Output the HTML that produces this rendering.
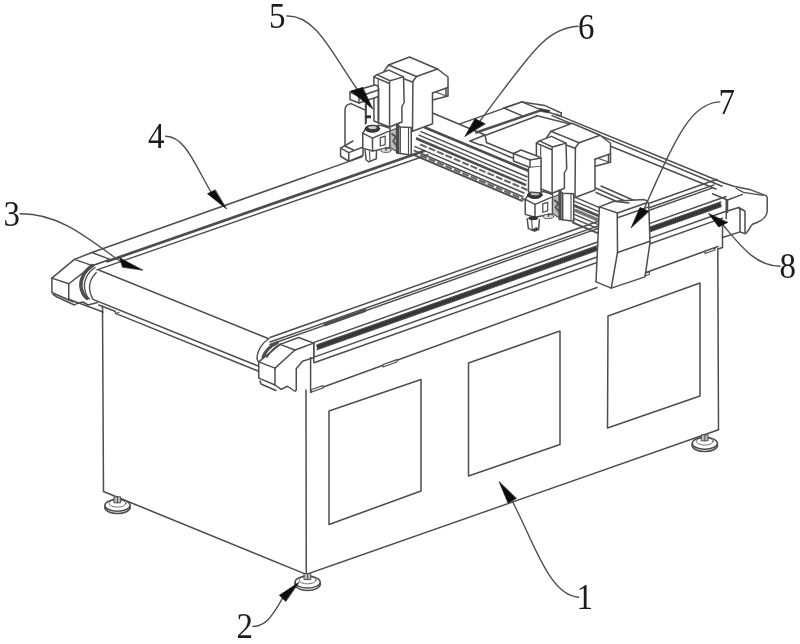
<!DOCTYPE html>
<html><head><meta charset="utf-8"><title>Figure</title>
<style>
html,body{margin:0;padding:0;background:#fff;}
body{width:800px;height:644px;overflow:hidden;font-family:"Liberation Serif",serif;}
svg{display:block}
text{font-family:"Liberation Serif",serif;fill:#1a1a1a;stroke:none}
</style></head><body>
<svg width="800" height="644" viewBox="0 0 800 644" fill="none" stroke="#4e4e4e" stroke-width="1.5" stroke-linecap="round" stroke-linejoin="round">
<defs><filter id="soft" x="0" y="0" width="800" height="644" filterUnits="userSpaceOnUse"><feGaussianBlur stdDeviation="0.5"/></filter></defs>
<rect x="0" y="0" width="800" height="644" fill="#fff" stroke="none"/>
<g filter="url(#soft)">
<line x1="102.50" y1="306.00" x2="103.50" y2="491.50"/>
<line x1="103.50" y1="491.50" x2="306.25" y2="574.40"/>
<line x1="306.00" y1="390.00" x2="306.25" y2="574.40"/>
<line x1="306.25" y1="574.40" x2="718.50" y2="429.75"/>
<line x1="717.80" y1="249.00" x2="718.50" y2="429.75"/>
<polygon points="329.00,411.00 421.00,379.50 421.00,491.00 329.00,524.50"/>
<polygon points="468.50,363.00 560.00,331.00 560.00,444.50 468.50,476.00"/>
<polygon points="608.00,316.00 700.00,283.00 700.00,396.00 607.50,428.00"/>
<line x1="311.00" y1="391.50" x2="597.00" y2="287.50"/>
<line x1="646.00" y1="272.50" x2="718.00" y2="246.50"/>
<line x1="60.00" y1="296.00" x2="103.00" y2="312.00"/>
<line x1="98.75" y1="305.00" x2="115.00" y2="311.25"/>
<polyline points="115.00,311.25 115.50,313.40 119.00,312.20" stroke-width="1.1"/>
<line x1="115.50" y1="313.40" x2="258.00" y2="371.00"/>
<polygon points="383.00,364.60 397.00,359.64 397.00,362.04 383.00,367.00" stroke-width="1.1" fill="#eee"/>
<polygon points="311.00,389.80 323.00,385.55 323.00,387.95 311.00,392.20" stroke-width="1.1" fill="#eee"/>
<polygon points="705.00,251.20 715.00,247.66 715.00,250.06 705.00,253.60" stroke-width="1.1" fill="#eee"/>
<ellipse cx="117.5" cy="507.3" rx="12.8" ry="6.3" fill="#fff"/>
<ellipse cx="117.5" cy="505.3" rx="12.6" ry="6.0" fill="#fff"/>
<ellipse cx="117.5" cy="503.3" rx="8.5" ry="3.8" fill="none" stroke-width="0.8"/>
<rect x="114.3" y="496.8" width="6.4" height="6" fill="#bbb" stroke-width="1.0"/>
<line x1="117.50" y1="496.80" x2="117.50" y2="502.80" stroke-width="0.97"/>
<ellipse cx="307.6" cy="584.1" rx="12.8" ry="6.3" fill="#fff"/>
<ellipse cx="307.6" cy="582.1" rx="12.6" ry="6.0" fill="#fff"/>
<ellipse cx="307.6" cy="580.1" rx="8.5" ry="3.8" fill="none" stroke-width="0.8"/>
<rect x="304.40000000000003" y="573.6" width="6.4" height="6" fill="#bbb" stroke-width="1.0"/>
<line x1="307.60" y1="573.60" x2="307.60" y2="579.60" stroke-width="0.97"/>
<ellipse cx="704.8" cy="445.3" rx="12.8" ry="6.3" fill="#fff"/>
<ellipse cx="704.8" cy="443.3" rx="12.6" ry="6.0" fill="#fff"/>
<ellipse cx="704.8" cy="441.3" rx="8.5" ry="3.8" fill="none" stroke-width="0.8"/>
<rect x="701.5999999999999" y="434.8" width="6.4" height="6" fill="#bbb" stroke-width="1.0"/>
<line x1="704.80" y1="434.80" x2="704.80" y2="440.80" stroke-width="0.97"/>
<line x1="91.90" y1="252.50" x2="362.00" y2="156.88"/>
<line x1="107.50" y1="261.21" x2="424.00" y2="151.07" stroke-width="2.76"/>
<line x1="97.00" y1="269.86" x2="428.00" y2="154.68"/>
<line x1="98.75" y1="270.00" x2="268.75" y2="338.68"/>
<line x1="93.00" y1="299.40" x2="257.50" y2="365.70"/>
<polygon points="51.90,278.10 74.40,259.40 91.90,252.50 110.00,259.40 92.50,265.60 68.75,283.75 68.75,300.00 51.90,292.50" fill="#fff"/>
<line x1="74.40" y1="259.40" x2="92.50" y2="265.60"/>
<line x1="51.90" y1="278.10" x2="68.75" y2="283.75"/>
<line x1="92.50" y1="265.60" x2="110.00" y2="259.40"/>
<polyline points="53.00,294.40 57.00,297.00 74.40,305.00 76.25,303.75 83.00,302.00 88.00,305.00 97.50,302.50"/>
<line x1="68.75" y1="300.00" x2="74.00" y2="302.00"/>
<path d="M92.5,265.6 C84,271 80,280 81,287 C82,293 84,296 87,298.2" stroke-width="3.59"/>
<path d="M95,267.5 C87,273 83.5,281 84.5,288 C85.5,294 87,297 89.5,299" stroke-width="1.38"/>
<path d="M96.25,272.5 C91,278 89,284 89.6,289 C90,293 91,296 92.5,298.7" stroke-width="1.38"/>
<line x1="270.00" y1="337.48" x2="599.00" y2="221.01"/>
<line x1="270.00" y1="342.08" x2="599.00" y2="225.61"/>
<line x1="270.00" y1="344.58" x2="599.00" y2="228.11"/>
<line x1="314.00" y1="342.35" x2="597.00" y2="242.17"/>
<line x1="314.00" y1="357.10" x2="597.00" y2="256.92"/>
<line x1="314.00" y1="362.70" x2="597.00" y2="262.52"/>
<line x1="317.00" y1="344.94" x2="597.00" y2="245.82" stroke-width="1.24"/>
<line x1="317.00" y1="349.64" x2="597.00" y2="250.52" stroke-width="1.24"/>
<line x1="317" y1="347.29" x2="597" y2="248.17" stroke="#484848" stroke-width="4.2" stroke-linecap="butt"/>
<line x1="317" y1="347.29" x2="597" y2="248.17" stroke="#2e2e2e" stroke-width="3.4" stroke-dasharray="1.4 0.8" stroke-linecap="butt"/>
<line x1="650.00" y1="202.96" x2="717.00" y2="179.24"/>
<line x1="650.00" y1="207.56" x2="714.00" y2="184.90"/>
<line x1="650.00" y1="210.06" x2="712.00" y2="188.11"/>
<line x1="650.00" y1="223.41" x2="726.00" y2="196.51"/>
<line x1="650.00" y1="238.16" x2="726.00" y2="211.26"/>
<line x1="650.00" y1="243.76" x2="722.50" y2="218.10"/>
<line x1="650.00" y1="227.06" x2="721.00" y2="201.93" stroke-width="1.24"/>
<line x1="650.00" y1="231.76" x2="721.00" y2="206.63" stroke-width="1.24"/>
<line x1="650" y1="229.41" x2="721" y2="204.28" stroke="#484848" stroke-width="4.2" stroke-linecap="butt"/>
<line x1="650" y1="229.41" x2="721" y2="204.28" stroke="#2e2e2e" stroke-width="3.4" stroke-dasharray="1.4 0.8" stroke-linecap="butt"/>
<line x1="325.00" y1="324.71" x2="365.00" y2="310.55" stroke-width="3.04"/>
<polygon points="258.75,361.90 280.00,344.40 298.75,337.50 313.75,343.10 313.75,357.50 302.50,361.25 296.25,368.75 296.25,390.00 295.00,391.25 287.50,386.25 281.25,389.40 275.00,385.00 258.75,378.10" fill="#fff"/>
<line x1="258.75" y1="361.90" x2="275.00" y2="368.10"/>
<line x1="275.00" y1="368.10" x2="275.00" y2="385.00"/>
<line x1="275.00" y1="368.10" x2="295.00" y2="350.00"/>
<line x1="280.00" y1="344.40" x2="295.00" y2="350.00"/>
<line x1="295.00" y1="350.00" x2="313.75" y2="343.10"/>
<polyline points="260.00,381.00 261.00,384.00 276.00,390.50"/>
<path d="M268.75,338.75 C262,343 257.5,351 257,357 C257,360 258,361.5 258.75,362" stroke-width="1.38"/>
<path d="M277.5,342.5 C270,346 265,352 263,357" stroke-width="3.04"/>
<path d="M281,344 C275,347 270,352 267,357" stroke-width="1.66"/>
<line x1="310.60" y1="357.50" x2="310.60" y2="392.50"/>
<line x1="313.75" y1="343.10" x2="313.75" y2="361.50"/>
<line x1="460.00" y1="123.90" x2="521.90" y2="101.90"/>
<line x1="476.25" y1="132.50" x2="540.00" y2="110.60" stroke-width="2.48"/>
<line x1="486.25" y1="135.00" x2="536.25" y2="116.25"/>
<polyline points="503.75,108.00 521.90,101.90 545.00,105.60 561.25,113.00"/>
<line x1="503.75" y1="108.00" x2="521.90" y2="115.60"/>
<line x1="521.90" y1="101.90" x2="540.00" y2="109.40"/>
<line x1="540.00" y1="109.40" x2="560.00" y2="116.00"/>
<line x1="561.25" y1="113.00" x2="561.25" y2="116.40"/>
<line x1="536.25" y1="115.60" x2="571.00" y2="124.20"/>
<polygon points="540.00,108.50 550.00,110.50 549.00,113.00 541.00,111.50" stroke-width="0.83" fill="#333"/>
<line x1="556.00" y1="114.30" x2="723.75" y2="183.00"/>
<line x1="552.00" y1="115.60" x2="722.00" y2="186.30"/>
<line x1="610.60" y1="146.25" x2="716.00" y2="189.00"/>
<line x1="432.50" y1="113.00" x2="485.00" y2="135.00"/>
<polyline points="470.00,141.00 485.00,135.00 486.60,142.50"/>
<line x1="470.00" y1="141.00" x2="481.00" y2="145.30"/>
<line x1="486.30" y1="142.50" x2="513.75" y2="153.75"/>
<line x1="481.25" y1="144.60" x2="512.50" y2="158.00"/>
<line x1="425.00" y1="127.50" x2="529.00" y2="171.00" stroke-width="2.62"/>
<line x1="421.00" y1="131.68" x2="527.00" y2="176.72"/>
<line x1="419.00" y1="135.17" x2="526.00" y2="180.65"/>
<line x1="417.00" y1="138.72" x2="525.00" y2="184.62" stroke-width="2.62"/>
<line x1="415.00" y1="146.62" x2="524.00" y2="192.95"/>
<line x1="414.00" y1="150.45" x2="523.00" y2="196.78"/>
<line x1="413.00" y1="154.53" x2="522.00" y2="200.85" stroke-width="1.93"/>
<line x1="421.00" y1="144.73" x2="426.00" y2="146.85" stroke-width="2.07" stroke="#666"/>
<line x1="421.00" y1="155.62" x2="426.00" y2="157.75" stroke-width="2.07" stroke="#666"/>
<line x1="429.40" y1="148.30" x2="434.40" y2="150.42" stroke-width="2.07" stroke="#666"/>
<line x1="429.40" y1="159.19" x2="434.40" y2="161.32" stroke-width="2.07" stroke="#666"/>
<line x1="437.80" y1="151.87" x2="442.80" y2="153.99" stroke-width="2.07" stroke="#666"/>
<line x1="437.80" y1="162.76" x2="442.80" y2="164.89" stroke-width="2.07" stroke="#666"/>
<line x1="446.20" y1="155.44" x2="451.20" y2="157.56" stroke-width="2.07" stroke="#666"/>
<line x1="446.20" y1="166.33" x2="451.20" y2="168.46" stroke-width="2.07" stroke="#666"/>
<line x1="454.60" y1="159.01" x2="459.60" y2="161.13" stroke-width="2.07" stroke="#666"/>
<line x1="454.60" y1="169.91" x2="459.60" y2="172.03" stroke-width="2.07" stroke="#666"/>
<line x1="463.00" y1="162.58" x2="468.00" y2="164.70" stroke-width="2.07" stroke="#666"/>
<line x1="463.00" y1="173.47" x2="468.00" y2="175.60" stroke-width="2.07" stroke="#666"/>
<line x1="471.40" y1="166.15" x2="476.40" y2="168.27" stroke-width="2.07" stroke="#666"/>
<line x1="471.40" y1="177.04" x2="476.40" y2="179.17" stroke-width="2.07" stroke="#666"/>
<line x1="479.80" y1="169.72" x2="484.80" y2="171.84" stroke-width="2.07" stroke="#666"/>
<line x1="479.80" y1="180.61" x2="484.80" y2="182.74" stroke-width="2.07" stroke="#666"/>
<line x1="488.20" y1="173.28" x2="493.20" y2="175.41" stroke-width="2.07" stroke="#666"/>
<line x1="488.20" y1="184.18" x2="493.20" y2="186.31" stroke-width="2.07" stroke="#666"/>
<line x1="496.60" y1="176.86" x2="501.60" y2="178.98" stroke-width="2.07" stroke="#666"/>
<line x1="496.60" y1="187.75" x2="501.60" y2="189.88" stroke-width="2.07" stroke="#666"/>
<line x1="505.00" y1="180.43" x2="510.00" y2="182.55" stroke-width="2.07" stroke="#666"/>
<line x1="505.00" y1="191.32" x2="510.00" y2="193.45" stroke-width="2.07" stroke="#666"/>
<line x1="513.40" y1="184.00" x2="518.40" y2="186.12" stroke-width="2.07" stroke="#666"/>
<line x1="513.40" y1="194.89" x2="518.40" y2="197.02" stroke-width="2.07" stroke="#666"/>
<line x1="521.80" y1="187.56" x2="526.80" y2="189.69" stroke-width="2.07" stroke="#666"/>
<line x1="521.80" y1="198.46" x2="526.80" y2="200.59" stroke-width="2.07" stroke="#666"/>
<line x1="573.00" y1="196.27" x2="599.50" y2="207.54" stroke-width="1.38"/>
<line x1="573.00" y1="200.62" x2="599.50" y2="211.89" stroke-width="1.38"/>
<line x1="573.00" y1="205.02" x2="599.50" y2="216.29" stroke-width="2.62"/>
<line x1="573.00" y1="213.77" x2="599.50" y2="225.04" stroke-width="1.38"/>
<line x1="573.00" y1="218.02" x2="599.50" y2="229.29" stroke-width="1.38"/>
<line x1="573.00" y1="222.52" x2="599.50" y2="233.79" stroke-width="1.93"/>
<line x1="576.00" y1="210.60" x2="599.00" y2="220.38" stroke-width="3.59" stroke="#777"/>
<line x1="594.40" y1="187.50" x2="629.40" y2="203.00"/>
<line x1="596.00" y1="192.50" x2="615.00" y2="200.80"/>
<line x1="601.00" y1="186.00" x2="634.00" y2="200.50"/>
<polygon points="384.00,71.50 388.50,65.00 409.50,57.00 437.50,69.00 448.00,77.00 448.00,96.00 432.50,100.00 432.50,123.75 412.50,131.25 412.50,131.25 384.00,120.00" fill="#fff" stroke="none"/>
<polyline points="384.00,120.00 384.00,71.50 388.50,65.00 409.50,57.00 437.50,69.00 448.00,77.00 448.00,96.00 432.50,100.00 432.50,123.75 412.50,131.25"/>
<line x1="388.50" y1="65.00" x2="416.50" y2="76.50"/>
<line x1="416.50" y1="76.50" x2="437.50" y2="69.00"/>
<line x1="384.00" y1="71.50" x2="412.50" y2="82.00"/>
<line x1="412.50" y1="82.00" x2="416.50" y2="76.50"/>
<line x1="412.90" y1="82.00" x2="412.50" y2="131.25"/>
<line x1="448.00" y1="87.50" x2="432.50" y2="93.00"/>
<line x1="432.50" y1="93.00" x2="432.50" y2="100.00"/>
<line x1="446.00" y1="88.50" x2="446.00" y2="95.80"/>
<line x1="436.00" y1="92.30" x2="446.00" y2="95.80" stroke-width="1.1"/>
<polygon points="373.90,76.90 376.90,74.60 388.90,70.10 403.50,76.90 404.20,102.50 401.90,106.50 401.90,122.00 389.60,127.00 373.90,121.00" fill="#fff"/>
<line x1="376.90" y1="74.60" x2="390.00" y2="80.80"/>
<line x1="390.00" y1="80.80" x2="403.50" y2="76.90"/>
<line x1="373.90" y1="76.90" x2="388.90" y2="83.25"/>
<line x1="389.60" y1="82.20" x2="389.60" y2="127.00"/>
<line x1="378.20" y1="78.50" x2="378.20" y2="122.00" stroke-width="1.1"/>
<polygon points="546.50,137.75 551.00,131.25 572.00,123.25 600.00,135.25 610.50,143.25 610.50,162.25 595.00,166.25 595.00,190.00 575.00,197.50 575.00,197.50 546.50,186.25" fill="#fff" stroke="none"/>
<polyline points="546.50,186.25 546.50,137.75 551.00,131.25 572.00,123.25 600.00,135.25 610.50,143.25 610.50,162.25 595.00,166.25 595.00,190.00 575.00,197.50"/>
<line x1="551.00" y1="131.25" x2="579.00" y2="142.75"/>
<line x1="579.00" y1="142.75" x2="600.00" y2="135.25"/>
<line x1="546.50" y1="137.75" x2="575.00" y2="148.25"/>
<line x1="575.00" y1="148.25" x2="579.00" y2="142.75"/>
<line x1="575.40" y1="148.25" x2="575.00" y2="197.50"/>
<line x1="610.50" y1="153.75" x2="595.00" y2="159.25"/>
<line x1="595.00" y1="159.25" x2="595.00" y2="166.25"/>
<line x1="608.50" y1="154.75" x2="608.50" y2="162.05"/>
<line x1="598.50" y1="158.55" x2="608.50" y2="162.05" stroke-width="1.1"/>
<polygon points="536.40,143.15 539.40,140.85 551.40,136.35 566.00,143.15 566.70,168.75 564.40,172.75 564.40,188.25 552.10,193.25 536.40,187.25" fill="#fff"/>
<line x1="539.40" y1="140.85" x2="552.50" y2="147.05"/>
<line x1="552.50" y1="147.05" x2="566.00" y2="143.15"/>
<line x1="536.40" y1="143.15" x2="551.40" y2="149.50"/>
<line x1="552.10" y1="148.45" x2="552.10" y2="193.25"/>
<line x1="540.70" y1="144.75" x2="540.70" y2="188.25" stroke-width="1.1"/>
<path d="M345,146 L345,110.5 Q345,106 348.5,104.4 L351,103.6"/>
<line x1="351.00" y1="103.60" x2="366.20" y2="110.50"/>
<line x1="366.20" y1="104.50" x2="366.20" y2="123.00"/>
<polygon points="350.00,92.00 375.00,85.00 377.60,85.80 378.50,88.00 378.50,96.50 359.00,103.00 350.00,99.50" fill="#fff"/>
<line x1="378.50" y1="96.50" x2="378.50" y2="120.00"/>
<line x1="350.00" y1="92.00" x2="359.00" y2="96.50"/>
<line x1="359.00" y1="96.50" x2="359.00" y2="103.00"/>
<line x1="359.00" y1="96.50" x2="378.50" y2="90.00"/>
<polyline points="353.00,141.00 340.60,148.10 340.60,156.25 348.75,161.25 363.00,155.50 363.00,147.00" fill="#fff"/>
<line x1="340.60" y1="148.10" x2="348.75" y2="152.60"/>
<line x1="348.75" y1="152.60" x2="348.75" y2="161.25"/>
<line x1="348.75" y1="152.60" x2="362.00" y2="147.50"/>
<line x1="345.00" y1="146.00" x2="353.50" y2="150.00"/>
<polyline points="365.00,150.00 366.25,160.00 368.75,161.90 376.25,158.75 376.50,151.00" fill="#fff"/>
<line x1="369.50" y1="151.50" x2="370.00" y2="161.20" stroke-width="1.1"/>
<polygon points="362.75,133.10 372.50,138.10 390.00,130.60 390.00,147.50 372.50,151.00 362.75,148.10" fill="#fff"/>
<line x1="372.50" y1="138.10" x2="372.50" y2="151.00"/>
<polyline points="362.75,133.10 366.00,128.50 381.00,125.20 390.00,128.30 390.00,130.60" fill="#fff"/>
<ellipse cx="372.4" cy="128.7" rx="7.3" ry="3.5" fill="#3a3a3a" stroke="#222" stroke-width="1"/>
<ellipse cx="372.6" cy="127.6" rx="4.8" ry="2.0" fill="#ccc" stroke="#222" stroke-width="0.8"/>
<polygon points="380.30,137.60 385.20,136.20 385.20,144.60 380.30,146.00" stroke-width="1.24"/>
<polygon points="390.00,131.00 397.50,128.00 397.50,152.00 390.00,147.50" stroke-width="1.1" fill="#bbb"/>
<polyline points="392.00,134.00 396.00,137.00 393.00,141.00 396.00,145.00" stroke-width="1.66"/>
<polygon points="397.50,125.00 400.00,126.90 411.25,127.50 411.25,155.00 400.00,153.60 397.50,152.50" fill="#fff"/>
<line x1="397.50" y1="125.00" x2="397.50" y2="152.50" stroke-width="3.31"/>
<line x1="400.20" y1="127.00" x2="400.20" y2="153.60"/>
<line x1="408.50" y1="127.50" x2="408.50" y2="154.50" stroke-width="1.1"/>
<ellipse cx="386" cy="150.3" rx="5.2" ry="2.1" fill="#ddd" stroke-width="0.9"/>
<line x1="386.00" y1="147.50" x2="386.00" y2="150.00" stroke-width="1.66"/>
<polyline points="527.20,218.75 528.40,228.60 534.50,231.10 538.60,229.50 539.40,219.75" fill="#fff"/>
<line x1="531.70" y1="220.25" x2="532.30" y2="229.85" stroke-width="1.1"/>
<polygon points="532.00,229.85 534.50,231.05 538.00,229.55 537.00,227.75" stroke-width="0.83" fill="#333"/>
<polygon points="525.25,199.35 535.00,204.35 552.50,196.85 552.50,213.75 535.00,217.25 525.25,214.35" fill="#fff"/>
<line x1="535.00" y1="204.35" x2="535.00" y2="217.25"/>
<ellipse cx="533.1" cy="218.15" rx="4.6" ry="1.5" fill="#333" stroke="#222" stroke-width="0.8"/>
<polyline points="525.25,199.35 528.50,194.75 543.50,191.45 552.50,194.55 552.50,196.85" fill="#fff"/>
<ellipse cx="534.9" cy="194.95" rx="7.3" ry="3.5" fill="#3a3a3a" stroke="#222" stroke-width="1"/>
<ellipse cx="535.1" cy="193.85" rx="4.8" ry="2.0" fill="#ccc" stroke="#222" stroke-width="0.8"/>
<polygon points="542.80,203.85 547.70,202.45 547.70,210.85 542.80,212.25" stroke-width="1.24"/>
<polygon points="552.50,197.25 560.00,194.25 560.00,218.25 552.50,213.75" stroke-width="1.1" fill="#bbb"/>
<polyline points="554.50,200.25 558.50,203.25 555.50,207.25 558.50,211.25" stroke-width="1.66"/>
<polygon points="560.00,191.25 562.50,193.15 573.75,193.75 573.75,221.25 562.50,219.85 560.00,218.75" fill="#fff"/>
<line x1="560.00" y1="191.25" x2="560.00" y2="218.75" stroke-width="3.31"/>
<line x1="562.70" y1="193.25" x2="562.70" y2="219.85"/>
<line x1="571.00" y1="193.75" x2="571.00" y2="220.75" stroke-width="1.1"/>
<ellipse cx="548.5" cy="216.55" rx="5.2" ry="2.1" fill="#ddd" stroke-width="0.9"/>
<line x1="548.50" y1="213.75" x2="548.50" y2="216.25" stroke-width="1.66"/>
<line x1="365.50" y1="104.00" x2="365.50" y2="124.00"/>
<line x1="378.50" y1="88.00" x2="378.50" y2="124.00"/>
<rect x="365" y="115.3" width="6" height="3" fill="#333" stroke="none"/>
<polygon points="513.50,153.50 521.00,150.00 537.00,156.00 541.00,158.50 541.00,166.50 530.00,167.50 513.50,161.00" fill="#fff"/>
<line x1="513.50" y1="153.50" x2="530.00" y2="160.00"/>
<line x1="530.00" y1="160.00" x2="541.00" y2="158.00"/>
<line x1="530.00" y1="160.00" x2="530.00" y2="167.50"/>
<polyline points="528.50,168.00 528.50,192.00 541.00,193.00 541.00,166.50" fill="#fff"/>
<polygon points="599.40,206.90 613.75,201.25 644.00,199.60 647.50,201.00 648.75,204.00 650.00,242.50 645.00,276.90 611.25,288.10 596.00,281.90" fill="#fff"/>
<line x1="599.40" y1="206.90" x2="617.50" y2="213.00"/>
<path d="M617.5,213 Q617.0,215 617.25,218 L617.5,252.5 L611.25,288.1"/>
<line x1="617.50" y1="213.00" x2="647.50" y2="202.50"/>
<line x1="618.30" y1="217.50" x2="648.75" y2="206.90"/>
<line x1="617.50" y1="252.50" x2="650.00" y2="241.25"/>
<line x1="613.75" y1="201.25" x2="629.00" y2="203.00"/>
<polyline points="645.00,273.20 649.40,271.80 649.40,274.40 645.00,275.80" stroke-width="1.1"/>
<path d="M723.75,183 L733.75,186.3 L749.5,189.4 L766,195.6 Q767.2,196.3 767.2,198 L767.2,211.5 C766.5,217 762,220.5 757,222.5 L752.5,224.3 Q750.5,226 749.3,229 L746.25,233.1"/>
<polyline points="736.00,188.30 743.50,192.40 763.00,195.40" stroke-width="1.24"/>
<line x1="712.50" y1="193.75" x2="727.50" y2="200.00"/>
<line x1="727.50" y1="200.00" x2="727.50" y2="212.50"/>
<line x1="727.50" y1="200.00" x2="742.50" y2="194.40"/>
<line x1="726.25" y1="200.00" x2="726.25" y2="218.75"/>
<polyline points="727.50,211.00 738.75,207.50 745.00,211.25 745.00,233.75 740.00,231.90 740.00,209.50"/>
<line x1="738.75" y1="207.50" x2="740.00" y2="209.50"/>
<line x1="722.50" y1="226.00" x2="722.50" y2="247.50"/>
<line x1="722.50" y1="237.50" x2="740.00" y2="231.90"/>
<line x1="722.50" y1="247.50" x2="717.80" y2="249.00"/>
<text transform="translate(269.00,28.00) scale(0.94,1)" x="0" y="0" font-size="35">5</text>
<text transform="translate(578.00,38.50) scale(0.94,1)" x="0" y="0" font-size="35">6</text>
<text transform="translate(718.50,114.00) scale(0.94,1)" x="0" y="0" font-size="35">7</text>
<text transform="translate(779.50,278.00) scale(0.94,1)" x="0" y="0" font-size="35">8</text>
<text transform="translate(148.00,148.00) scale(0.94,1)" x="0" y="0" font-size="35">4</text>
<text transform="translate(3.50,225.60) scale(0.94,1)" x="0" y="0" font-size="35">3</text>
<text transform="translate(236.50,638.40) scale(0.94,1)" x="0" y="0" font-size="35">2</text>
<text transform="translate(576.50,608.75) scale(0.94,1)" x="0" y="0" font-size="35">1</text>
<path d="M286.9,16 C315,15 330,50 357,89" stroke-width="1.38"/>
<polygon points="372.50,108.75 351.00,91.00 362.50,87.50" stroke-width="0.69" fill="#111" stroke="#111"/>
<path d="M578,26.25 C545,28 530,55 480,121" stroke-width="1.38"/>
<polygon points="465.00,136.25 475.00,118.75 485.00,123.75" stroke-width="0.69" fill="#111" stroke="#111"/>
<path d="M719.75,101.9 C690,103 675,140 644,209" stroke-width="1.38"/>
<polygon points="631.25,227.50 640.00,207.50 648.75,211.25" stroke-width="0.69" fill="#111" stroke="#111"/>
<path d="M780,266.25 C755,266 740,245 723,225" stroke-width="1.38"/>
<polygon points="708.75,213.75 718.75,226.90 727.50,222.50" stroke-width="0.69" fill="#111" stroke="#111"/>
<path d="M165.6,136.25 C185,136 195,165 211,192" stroke-width="1.38"/>
<polygon points="226.25,208.75 207.50,193.75 215.00,190.00" stroke-width="0.69" fill="#111" stroke="#111"/>
<path d="M20,213.75 C60,213 90,240 121,262" stroke-width="1.38"/>
<polygon points="142.50,270.00 119.50,257.80 122.50,267.00" stroke-width="0.69" fill="#111" stroke="#111"/>
<path d="M253,626.5 C268,626 274,612 282.5,598.4" stroke-width="1.38"/>
<polygon points="298.75,582.50 279.40,595.25 285.60,601.25" stroke-width="0.69" fill="#111" stroke="#111"/>
<path d="M578.75,597.25 C550,596 535,545 512.5,501.5" stroke-width="1.38"/>
<polygon points="499.30,482.00 508.00,503.00 516.25,498.50" stroke-width="0.69" fill="#111" stroke="#111"/>
</g>
</svg>
</body></html>
